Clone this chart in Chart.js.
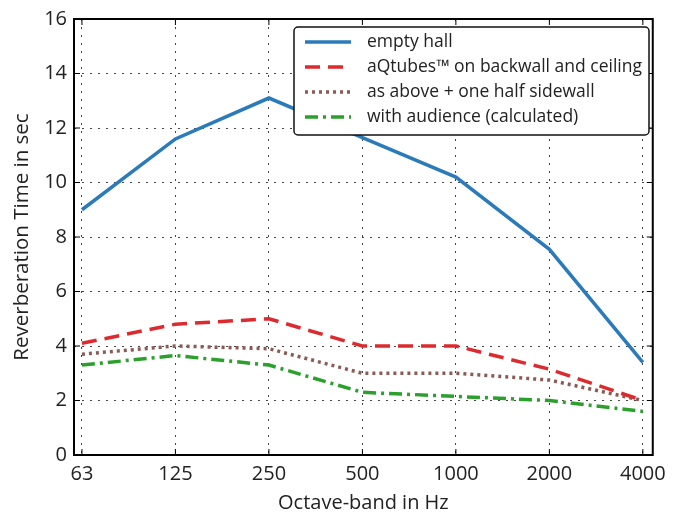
<!DOCTYPE html>
<html>
<head>
<meta charset="utf-8">
<script src="https://cdn.jsdelivr.net/npm/chart.js@4"></script>
<style>
  html, body { margin: 0; padding: 0; background: #fff; }
  #wrap { width: 673px; height: 515px; }
</style>
</head>
<body>
<div id="wrap"><canvas id="chart" width="673" height="515"></canvas></div>
<script>
const bands = ["63", "125", "250", "500", "1000", "2000", "4000"];
const emptyHall = [9.0, 11.6, 13.1, 11.65, 10.2, 7.55, 3.4];
const aqtubes = [4.1, 4.8, 5.0, 4.0, 4.0, 3.15, 2.0];
const halfSidewall = [3.7, 4.0, 3.9, 3.0, 3.0, 2.75, 2.0];
const withAudience = [3.3, 3.65, 3.3, 2.3, 2.15, 2.0, 1.6];
const yTicks = [0, 2, 4, 6, 8, 10, 12, 14, 16];

const font = "'Open Sans', 'Noto Sans', sans-serif";

function toPoints(values) {
  return values.map((v, i) => ({ x: i, y: v }));
}

// matplotlib-like frame, inward ticks and legend box
const framePlugin = {
  id: "frame",
  afterDatasetsDraw(chart) {
    const { ctx, chartArea: a, scales } = chart;
    ctx.save();
    ctx.strokeStyle = "#000";
    ctx.lineWidth = 1;
    scales.x.ticks.forEach((t) => {
      const px = scales.x.getPixelForValue(t.value);
      ctx.beginPath();
      ctx.moveTo(px, a.bottom); ctx.lineTo(px, a.bottom - 6);
      ctx.moveTo(px, a.top); ctx.lineTo(px, a.top + 6);
      ctx.stroke();
    });
    scales.y.ticks.forEach((t) => {
      const py = scales.y.getPixelForValue(t.value);
      ctx.beginPath();
      ctx.moveTo(a.left, py); ctx.lineTo(a.left + 6, py);
      ctx.moveTo(a.right, py); ctx.lineTo(a.right - 6, py);
      ctx.stroke();
    });
    ctx.lineWidth = 2;
    ctx.strokeRect(a.left, a.top, a.right - a.left, a.bottom - a.top);

    // legend
    const bx = 294, by = 27, bw = 355, bh = 108;
    ctx.beginPath();
    ctx.roundRect(bx, by, bw, bh, 4);
    ctx.fillStyle = "#fff";
    ctx.fill();
    ctx.lineWidth = 1.5;
    ctx.strokeStyle = "#111";
    ctx.stroke();
    ctx.font = "17.5px " + font;
    ctx.textBaseline = "middle";
    chart.data.datasets.forEach((ds, i) => {
      const y = by + 15 + i * 25;
      ctx.beginPath();
      ctx.setLineDash(ds.borderDash || []);
      ctx.strokeStyle = ds.borderColor;
      ctx.lineWidth = ds.borderWidth;
      ctx.moveTo(bx + 11, y); ctx.lineTo(bx + 57, y);
      ctx.stroke();
      ctx.setLineDash([]);
      ctx.fillStyle = "#222";
      ctx.fillText(ds.label, bx + 73, y);
    });
    ctx.restore();
  }
};

new Chart(document.getElementById("chart"), {
  type: "line",
  data: {
    datasets: [
      { label: "empty hall", data: toPoints(emptyHall), borderColor: "#2b7bba", borderWidth: 3.5 },
      { label: "aQtubes\u2122 on backwall and ceiling", data: toPoints(aqtubes), borderColor: "#dd2a2e", borderWidth: 3.5, borderDash: [15, 8] },
      { label: "as above + one half sidewall", data: toPoints(halfSidewall), borderColor: "#8b5a55", borderWidth: 3.5, borderDash: [3, 4] },
      { label: "with audience (calculated)", data: toPoints(withAudience), borderColor: "#2ca02c", borderWidth: 3.5, borderDash: [13, 5, 3, 5] }
    ]
  },
  options: {
    responsive: false,
    animation: false,
    layout: { padding: { top: 18, right: 16, left: 0, bottom: 0 } },
    elements: { point: { radius: 0 }, line: { tension: 0 } },
    plugins: { legend: { display: false }, tooltip: { enabled: false } },
    scales: {
      x: {
        type: "linear",
        min: -0.085,
        max: 6.106,
        afterBuildTicks: (scale) => { scale.ticks = bands.map((b, i) => ({ value: i })); },
        afterFit: (scale) => { scale.height = 60; },
        ticks: {
          callback: (v) => bands[v],
          color: "#222",
          font: { family: font, size: 20 },
          padding: 7,
          maxRotation: 0,
          autoSkip: false
        },
        grid: { color: "#444", lineWidth: 1, drawTicks: false },
        border: { display: false, dash: [2, 6] },
        title: { display: true, text: "Octave-band in Hz", color: "#222", font: { family: font, size: 20 }, padding: { top: 0, bottom: 0 } }
      },
      y: {
        min: 0,
        max: 16,
        afterBuildTicks: (scale) => { scale.ticks = yTicks.map((v) => ({ value: v })); },
        afterFit: (scale) => { scale.width = 74; },
        ticks: {
          color: "#222",
          font: { family: font, size: 20 },
          padding: 7
        },
        grid: { color: "#444", lineWidth: 1, drawTicks: false },
        border: { display: false, dash: [2, 6] },
        title: { display: true, text: "Reverberation Time in sec", color: "#222", font: { family: font, size: 20.5 }, padding: { top: 10, bottom: 0 } }
      }
    }
  },
  plugins: [framePlugin]
});
</script>
</body>
</html>
